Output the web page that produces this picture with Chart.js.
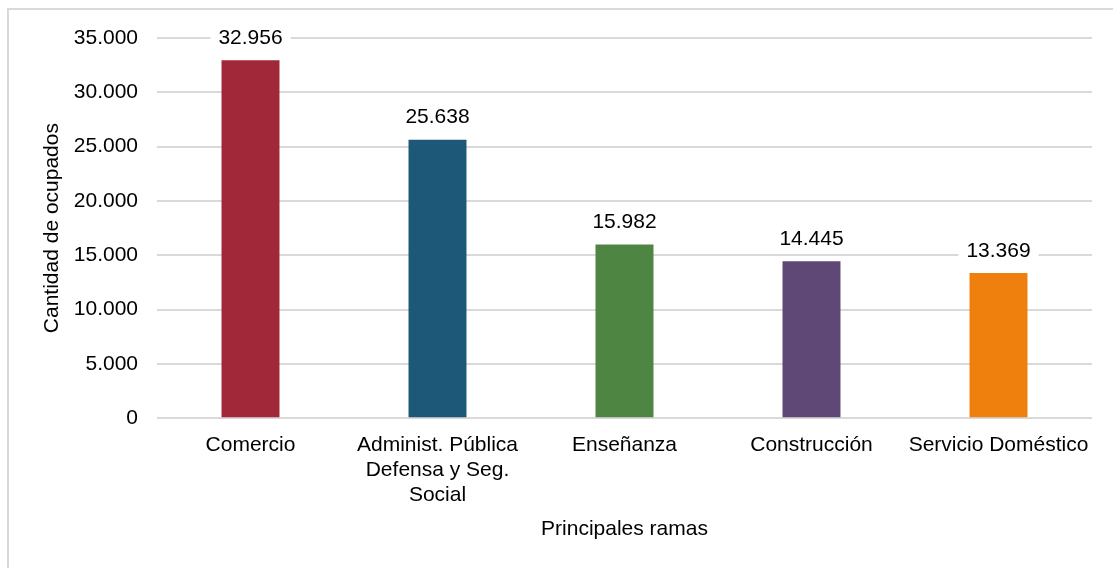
<!DOCTYPE html>
<html>
<head>
<meta charset="utf-8">
<script src="https://cdn.jsdelivr.net/npm/chart.js@4"></script>
<style>
  html, body { margin: 0; padding: 0; background: #fff; }
  #wrap { position: relative; width: 1113px; height: 568px; overflow: hidden; }
  #frame { position: absolute; left: 7px; top: 8px; width: 1200px; height: 700px;
           border: 2px solid #d9d9d9; pointer-events: none; }
</style>
</head>
<body>
<div id="wrap">
  <canvas id="chart" width="1113" height="568"></canvas>
  <div id="frame"></div>
</div>
<script>
const categories = ['Comercio', ['Administ. Pública', 'Defensa y Seg.', 'Social'], 'Enseñanza', 'Construcción', 'Servicio Doméstico'];
const ocupados = [32956, 25638, 15982, 14445, 13369];
const barColors = ['#A02838', '#1E5878', '#4F8542', '#604876', '#F0800E'];
const yTicks = [0, 5000, 10000, 15000, 20000, 25000, 30000, 35000];

const FONT = "'Liberation Sans', Arial, sans-serif";
const fmt = v => String(v).replace(/\B(?=(\d{3})+(?!\d))/g, '.');

// etiquetas de valor encima de cada barra, con fondo blanco
const valueLabels = {
  id: 'valueLabels',
  afterDatasetsDraw(chart) {
    const ctx = chart.ctx;
    const meta = chart.getDatasetMeta(0);
    ctx.save();
    ctx.font = '21px ' + FONT;
    ctx.textAlign = 'center';
    ctx.textBaseline = 'middle';
    meta.data.forEach((bar, i) => {
      const txt = fmt(ocupados[i]);
      const w = ctx.measureText(txt).width;
      const y = bar.y - 22;
      ctx.fillStyle = '#fff';
      ctx.fillRect(bar.x - w / 2 - 8, y - 13, w + 16, 26);
      ctx.fillStyle = '#000';
      ctx.fillText(txt, bar.x, y);
    });
    ctx.restore();
  }
};

new Chart(document.getElementById('chart').getContext('2d'), {
  type: 'bar',
  data: {
    labels: categories,
    datasets: [{
      data: ocupados,
      backgroundColor: barColors,
      categoryPercentage: 1,
      barPercentage: 0.31
    }]
  },
  options: {
    responsive: false,
    animation: false,
    layout: { padding: { top: 38, right: 21, bottom: 22, left: 40 } },
    plugins: { legend: { display: false }, tooltip: { enabled: false } },
    scales: {
      x: {
        grid: { display: false },
        border: { display: false },
        ticks: { color: '#000', font: { family: FONT, size: 21 }, maxRotation: 0, autoSkip: false, padding: 6 },
        title: { display: true, text: 'Principales ramas', color: '#000', font: { family: FONT, size: 21 }, padding: { top: 3, bottom: 4 } }
      },
      y: {
        min: 0,
        max: 35000,
        afterBuildTicks: axis => { axis.ticks = yTicks.map(v => ({ value: v })); },
        afterFit: axis => { axis.width = 117; },
        grid: { color: '#d9d9d9', lineWidth: 2, drawTicks: false },
        border: { display: false },
        ticks: { color: '#000', font: { family: FONT, size: 21 }, padding: 19, callback: v => fmt(v) },
        title: { display: true, text: 'Cantidad de ocupados', color: '#000', font: { family: FONT, size: 21 }, padding: 0 }
      }
    }
  },
  plugins: [valueLabels]
});
</script>
</body>
</html>
